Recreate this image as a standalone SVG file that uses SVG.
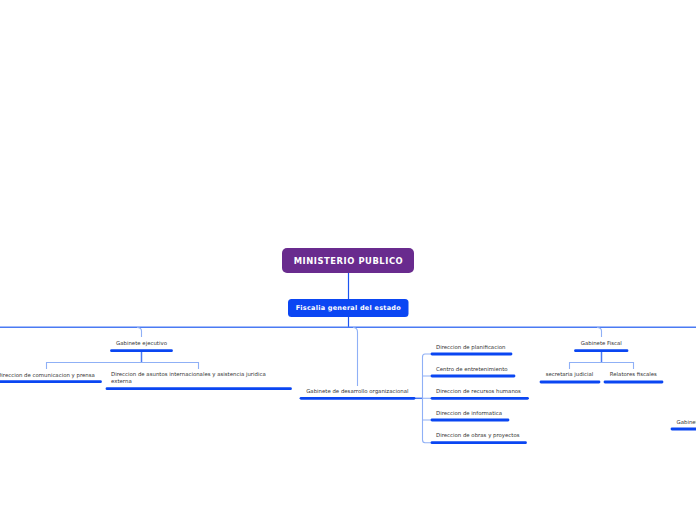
<svg xmlns="http://www.w3.org/2000/svg" width="696" height="520" viewBox="0 0 696 520">
<style>
.t{font-family:"DejaVu Sans","Liberation Sans",sans-serif;font-size:5.4px;fill:#333}
.m{text-anchor:middle}
.ul{stroke:#0a46f2;stroke-width:2.8;stroke-linecap:round;fill:none}
.c0{stroke:#1c55f2;stroke-width:1.2;fill:none}
.c1{stroke:#4a7af3;stroke-width:1.5;fill:none}
.c2{stroke:#8fb0f6;stroke-width:1.1;fill:none}
.bw{font-family:"DejaVu Sans","Liberation Sans",sans-serif;font-weight:bold;fill:#fff;text-anchor:middle}
</style>
<rect width="696" height="520" fill="#fff"/>
<g id="connectors">
<path class="c0" d="M348.5 273V299"/>
<path class="c0" d="M348.5 317V327"/>
<path class="c1" d="M0 327.3H696"/>
<path class="c2" d="M137 327.5Q141.5 327.5 141.5 331V337"/>
<path class="c2" d="M353 327.5Q357.5 327.5 357.5 332V386"/>
<path class="c2" d="M597 327.5Q601.5 327.5 601.5 331V337"/>
<path class="c1" d="M141.5 351V362"/>
<path class="c2" d="M46.5 369V362.5H198.5V369"/>
<path class="c1" d="M601.5 351V362"/>
<path class="c2" d="M569.5 369V362.5H633.5V369"/>
<path class="c1" d="M414 398.3H422.5"/>
<path class="c2" d="M431 354H425Q422.5 354 422.5 357V439.7Q422.5 442.7 425 442.7H431"/>
<path class="c2" d="M422.5 376H431M422.5 398.3H431M422.5 420H431"/>
</g>
<g id="n-ministerio">
<rect x="282" y="248" width="132" height="25" rx="5" fill="#692b8e"/>
<text class="bw" x="348.5" y="264" font-size="8.4" letter-spacing="0.55">MINISTERIO PUBLICO</text>
</g>
<g id="n-fiscalia">
<rect x="288" y="299" width="120.5" height="18" rx="3.5" fill="#0b46f3"/>
<text class="bw" x="348.3" y="310.4" font-size="6.5" letter-spacing="0.25">Fiscalia general del estado</text>
</g>
<g id="n-gab-ejecutivo">
<text class="t m" x="141.5" y="345.3">Gabinete ejecutivo</text>
<path class="ul" d="M111.5 350.7H171.5"/>
</g>
<g id="n-comunicacion">
<text class="t m" x="46" y="377">Direccion de comunicacion y prensa</text>
<path class="ul" d="M-8 381.7H100.5"/>
</g>
<g id="n-asuntos">
<text class="t" x="111" y="376.3">Direccion de asuntos internacionales y asistencia juridica</text>
<text class="t" x="111" y="383">externa</text>
<path class="ul" d="M107 388.7H290.5"/>
</g>
<g id="n-gab-desarrollo">
<text class="t m" x="357.3" y="392.7">Gabinete de desarrollo organizacional</text>
<path class="ul" d="M301 398.3H414"/>
</g>
<g id="n-planificacion">
<text class="t" x="436" y="348.7">Direccion de planificacion</text>
<path class="ul" d="M432 354H511"/>
</g>
<g id="n-entretenimiento">
<text class="t" x="436" y="370.9">Centro de entretenimiento</text>
<path class="ul" d="M432 376H514"/>
</g>
<g id="n-rrhh">
<text class="t" x="436" y="392.9">Direccion de recursos humanos</text>
<path class="ul" d="M432 398.3H527.5"/>
</g>
<g id="n-informatica">
<text class="t" x="436" y="414.9">Direccion de informatica</text>
<path class="ul" d="M432 420H508"/>
</g>
<g id="n-obras">
<text class="t" x="436" y="437.1">Direccion de obras y proyectos</text>
<path class="ul" d="M432 442.7H525.5"/>
</g>
<g id="n-gab-fiscal">
<text class="t m" x="601.3" y="345.3">Gabinete Fiscal</text>
<path class="ul" d="M575.5 350.7H627"/>
</g>
<g id="n-secretaria">
<text class="t m" x="569.5" y="376.3">secretaria judicial</text>
<path class="ul" d="M541 382H599"/>
</g>
<g id="n-relatores">
<text class="t m" x="633.3" y="376.3">Relatores fiscales</text>
<path class="ul" d="M605 382H662"/>
</g>
<g id="n-gabinete-right">
<text class="t" x="676.5" y="423.7">Gabinete</text>
<path class="ul" d="M672 429H700"/>
</g>
</svg>
